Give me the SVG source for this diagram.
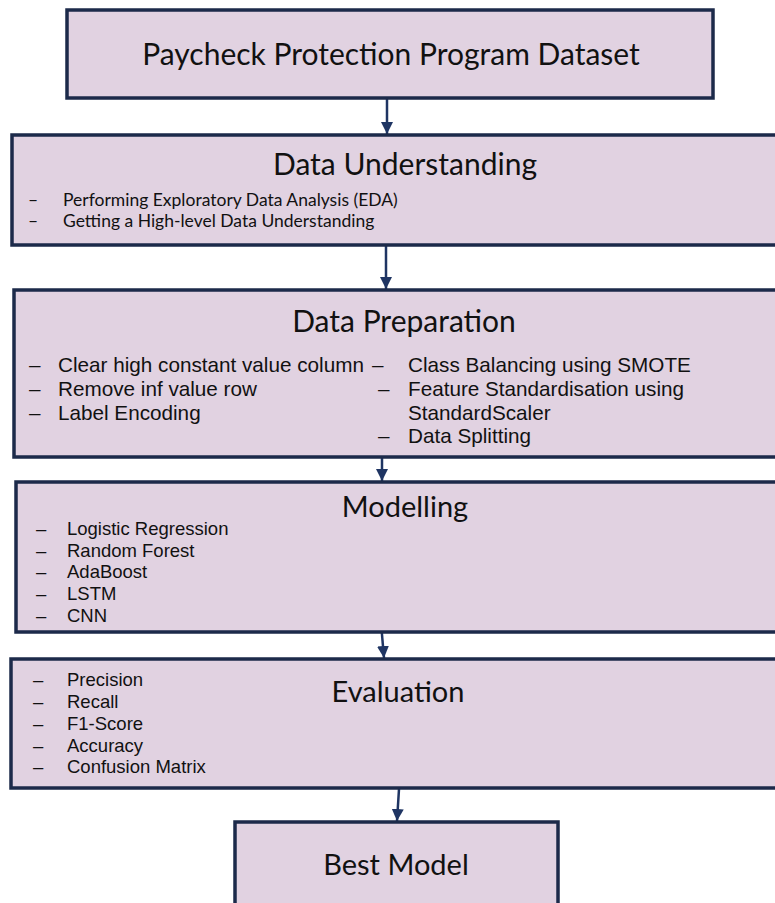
<svg xmlns="http://www.w3.org/2000/svg" width="775" height="903" viewBox="0 0 775 903">
<style>
.box{fill:#e1d2e1;stroke:#1c2a4a;stroke-width:3.5}
.title{font-family:Lato,"Open Sans","DejaVu Sans",sans-serif;font-size:29px;fill:#111;text-anchor:middle}
.big{font-size:30px}
.gb{font-family:Lato,"Open Sans","DejaVu Sans",sans-serif;font-size:17.5px;fill:#111}
.ab{font-family:"Liberation Sans",Arial,sans-serif;font-size:20.7px;fill:#111}
.am{font-family:"Liberation Sans",Arial,sans-serif;font-size:18.5px;fill:#111}
.conn{stroke:#1f3563;stroke-width:2.5;fill:none}
</style>
<defs>
<marker id="ah" markerUnits="userSpaceOnUse" markerWidth="14" markerHeight="14" refX="12" refY="6" orient="auto">
<path d="M0,0 L12,6 L0,12 Z" fill="#1f3563"/>
</marker>
</defs>
<rect width="775" height="903" fill="#ffffff"/>
<g id="connectors">
<line class="conn" x1="387" y1="98" x2="387" y2="134" marker-end="url(#ah)"/>
<line class="conn" x1="386" y1="246" x2="386" y2="289" marker-end="url(#ah)"/>
<line class="conn" x1="382" y1="457" x2="382" y2="481" marker-end="url(#ah)"/>
<line class="conn" x1="381" y1="623" x2="384" y2="658" marker-end="url(#ah)"/>
<line class="conn" x1="399" y1="789" x2="397" y2="821" marker-end="url(#ah)"/>
</g>
<g id="dataset">
<rect class="box" x="67" y="10" width="646" height="88"/>
<text class="title big" x="391" y="65">Paycheck Protection Program Dataset</text>
</g>
<g id="understanding">
<rect class="box" x="12" y="135" width="790" height="110"/>
<text class="title big" x="405" y="175">Data Understanding</text>
<text class="gb" x="28" y="206">–</text><text class="gb" x="63" y="206">Performing Exploratory Data Analysis (EDA)</text>
<text class="gb" x="28" y="227">–</text><text class="gb" x="63" y="227">Getting a High-level Data Understanding</text>
</g>
<g id="preparation">
<rect class="box" x="14" y="290" width="790" height="167"/>
<text class="title big" x="404" y="332">Data Preparation</text>
<text class="ab" x="29" y="372">–</text><text class="ab" x="58" y="372">Clear high constant value column</text>
<text class="ab" x="29" y="396">–</text><text class="ab" x="58" y="396">Remove inf value row</text>
<text class="ab" x="29" y="420">–</text><text class="ab" x="58" y="420">Label Encoding</text>
<text class="ab" x="372" y="372">–</text><text class="ab" x="408" y="372">Class Balancing using SMOTE</text>
<text class="ab" x="378" y="396">–</text><text class="ab" x="408" y="396">Feature Standardisation using</text>
<text class="ab" x="408" y="420">StandardScaler</text>
<text class="ab" x="378" y="443">–</text><text class="ab" x="408" y="443">Data Splitting</text>
</g>
<g id="modelling">
<rect class="box" x="16" y="482" width="790" height="150"/>
<text class="title" x="405" y="517">Modelling</text>
<text class="am" x="36" y="535">–</text><text class="am" x="67" y="535">Logistic Regression</text>
<text class="am" x="36" y="557">–</text><text class="am" x="67" y="557">Random Forest</text>
<text class="am" x="36" y="578">–</text><text class="am" x="67" y="578">AdaBoost</text>
<text class="am" x="36" y="600">–</text><text class="am" x="67" y="600">LSTM</text>
<text class="am" x="36" y="622">–</text><text class="am" x="67" y="622">CNN</text>
</g>
<g id="evaluation">
<rect class="box" x="11" y="659" width="790" height="129"/>
<text class="title" x="398" y="702">Evaluation</text>
<text class="am" x="33" y="686">–</text><text class="am" x="67" y="686">Precision</text>
<text class="am" x="33" y="708">–</text><text class="am" x="67" y="708">Recall</text>
<text class="am" x="33" y="730">–</text><text class="am" x="67" y="730">F1-Score</text>
<text class="am" x="33" y="752">–</text><text class="am" x="67" y="752">Accuracy</text>
<text class="am" x="33" y="773">–</text><text class="am" x="67" y="773">Confusion Matrix</text>
</g>
<g id="best-model">
<rect class="box" x="235" y="822" width="323" height="110"/>
<text class="title" x="396" y="875">Best Model</text>
</g>
</svg>
